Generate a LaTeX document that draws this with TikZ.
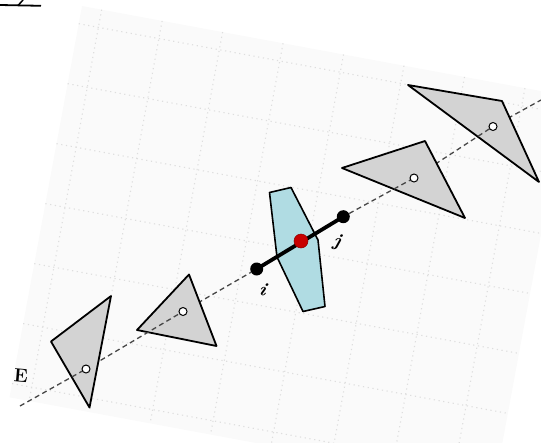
\documentclass[tikz,border=0pt]{standalone}
\usepackage{xcolor}
\definecolor{PaperTint}{HTML}{FAFAFA}
\definecolor{GridDot}{HTML}{DEDEDE}
\definecolor{PieceGrey}{HTML}{D3D3D3}
\definecolor{LinkBlue}{HTML}{B0DCE3}
\definecolor{PivotRed}{HTML}{C80000}
\definecolor{AxisGrey}{HTML}{474747}
\usetikzlibrary{calc, positioning}

\begin{document}
\begin{tikzpicture}[x=1pt, y=-1pt,
  piece/.style={fill=PieceGrey, draw=black, line width=1.8pt, line join=round},
  axis/.style={AxisGrey, line width=1.3pt, dash pattern=on 5pt off 3.5pt},
  griddot/.style={GridDot, line width=1.1pt, dash pattern=on 1.2pt off 3.6pt},
  hole/.style={circle, draw=black, fill=white, line width=1pt, inner sep=0pt, minimum size=8pt},
  joint/.style={circle, fill=black, inner sep=0pt, minimum size=13pt},
  tag/.style={font=\bfseries\itshape\fontsize{19}{19}\selectfont}]
\useasboundingbox (0,0) rectangle (541,442);
\clip (0,0) rectangle (541,442);
% Tilted sheet of grid paper
\begin{scope}[shift={(82,6)}, rotate=-10.5]
  \fill[PaperTint] (0,0) rectangle (493,398);
  \foreach \u in {20,81.5,...,480}
    \draw[griddot] (\u,0) -- (\u,398);
  \foreach \v in {18,79,...,398}
    \draw[griddot] (0,\v) -- (493,\v);
\end{scope}
% Cut-off mark in the corner
\draw[line width=1.8pt] (0,5) -- (41,5.8);
\draw[line width=1.5pt] (18,5.5) -- (23,0);
% Axis points
\coordinate (E0) at (20,406);
\coordinate (c1) at (86,369);
\coordinate (c2) at (183,311.5);
\coordinate (c3) at (414,178);
\coordinate (c4) at (493,126.5);
\coordinate (E1) at (541,100);
% Pieces, right to left
\draw[axis] (c4) -- (E1);
\filldraw[piece] (408,85) -- (502,101) -- (539,182) -- cycle;
\draw[axis] (c3) -- (c4);
\filldraw[piece] (342,168) -- (425,141) -- (465,218) -- cycle;
% Link with its pivot
\filldraw[fill=LinkBlue, draw=black, line width=1.6pt, line join=round]
  (269.5,192.5) -- (291,187.5) -- (318,240) -- (325,306.5)
  -- (303,311.5) -- (277,257) -- cycle;
\node[joint] (i) at (256.7,269) {};
\node[joint] (j) at (343.3,216.7) {};
\draw[line width=3.8pt] (i.center) -- (j.center);
\node[circle, fill=PivotRed, draw=PivotRed!70!black, line width=0.5pt,
  inner sep=0pt, minimum size=14pt] (pivot) at (301,241) {};
\draw[axis] (j) -- (c3);
\draw[axis] (c2) -- (i);
\filldraw[piece] (137,330) -- (189,274.5) -- (216.5,346) -- cycle;
\draw[axis] (c1) -- (c2);
\filldraw[piece] (51,341.5) -- (111,296) -- (89.5,407.5) -- cycle;
\draw[axis] (E0) -- (c1);
% Centres
\foreach \k in {1,...,4}
  \node[hole] (h\k) at (c\k) {};
% Labels
\node[font=\bfseries\fontsize{19}{19}\selectfont, rotate=-5] (lblE) at (21,376) {E};
\node[tag, rotate=-15] (lbli) at (263,289) {i};
\node[tag, rotate=-15] (lblj) at (337,242) {j};
\end{tikzpicture}
\end{document}
